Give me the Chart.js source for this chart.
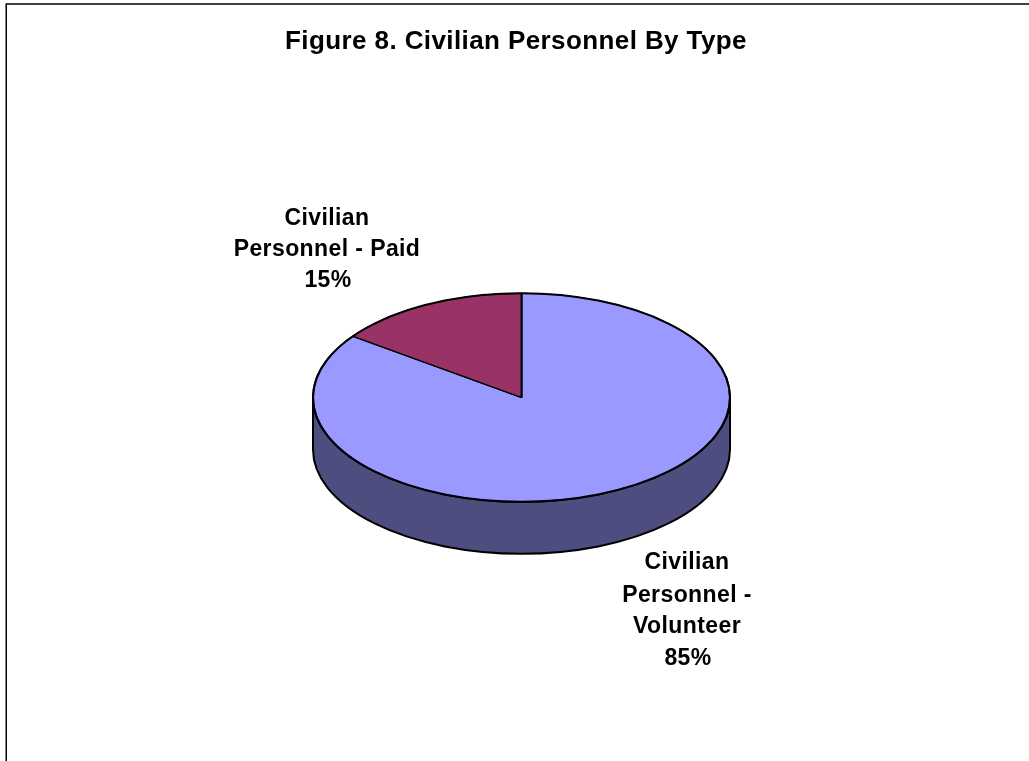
<!DOCTYPE html>
<html>
<head>
<meta charset="utf-8">
<title>Figure 8. Civilian Personnel By Type</title>
<script src="https://cdn.jsdelivr.net/npm/chart.js@4/dist/chart.umd.min.js"></script>
<style>
  html, body { margin: 0; padding: 0; background: #fff; overflow: hidden; }
  canvas { display: block; }
</style>
</head>
<body>
<canvas id="pieChart" width="1029" height="761"></canvas>
<script>
const chartTitle = "Figure 8. Civilian Personnel By Type";
const categories = ["Civilian Personnel - Volunteer", "Civilian Personnel - Paid"];
const shares = [85, 15];
const sliceColors = ["#9999FF", "#993366"];
const sideColors = ["#4D4D80", "#4D1A33"];

const FONT = '"Liberation Sans", Arial, sans-serif';
const SQUASH = 0.5;   // ellipse height / width
const DEPTH = 52;     // height of the pie's side wall

// the 3d look: squash the real arcs and put a wall under them
const pie3d = {
  id: "pie3d",
  beforeDatasetsDraw(chart) {
    const arc = chart.getDatasetMeta(0).data[0];
    const rx = arc.outerRadius;
    const ry = rx * SQUASH;
    const ctx = chart.ctx;

    ctx.save();
    ctx.beginPath();
    ctx.ellipse(arc.x, arc.y, rx, ry, 0, 0, Math.PI);
    ctx.ellipse(arc.x, arc.y + DEPTH, rx, ry, 0, Math.PI, 0, true);
    ctx.closePath();
    ctx.fillStyle = sideColors[0];
    ctx.fill();
    ctx.lineWidth = 2;
    ctx.strokeStyle = "#000";
    ctx.stroke();
    ctx.restore();

    ctx.save();
    ctx.translate(arc.x, arc.y);
    ctx.scale(1, SQUASH);
    ctx.translate(-arc.x, -arc.y);
  },
  afterDatasetsDraw(chart) {
    const ctx = chart.ctx;
    ctx.restore();

    // squashing thins the rim, so go over it once more
    const arc = chart.getDatasetMeta(0).data[0];
    ctx.save();
    ctx.beginPath();
    ctx.ellipse(arc.x, arc.y, arc.outerRadius, arc.outerRadius * SQUASH, 0, 0, Math.PI * 2);
    ctx.lineWidth = 2;
    ctx.strokeStyle = "#000";
    ctx.stroke();
    ctx.restore();
  }
};

// frame and texts, the title does not sit over the pie centre so it is drawn here
const annotations = {
  id: "annotations",
  afterDraw(chart) {
    const ctx = chart.ctx;
    ctx.save();
    ctx.strokeStyle = "#000";
    ctx.lineWidth = 1.5;
    ctx.beginPath();
    ctx.moveTo(6.25, 761);
    ctx.lineTo(6.25, 4);
    ctx.lineTo(1029, 4);
    ctx.stroke();

    ctx.fillStyle = "#000";
    ctx.textAlign = "center";
    ctx.textBaseline = "alphabetic";

    ctx.font = "bold 26px " + FONT;
    ctx.letterSpacing = "0.4px";
    ctx.fillText(chartTitle, 516, 49);

    ctx.font = "bold 23px " + FONT;
    ctx.letterSpacing = "0.4px";
    ctx.fillText("Civilian", 327, 225);
    ctx.fillText("Personnel - Paid", 327, 256);
    ctx.fillText(shares[1] + "%", 328, 287);

    ctx.fillText("Civilian", 687, 569);
    ctx.fillText("Personnel -", 687, 602);
    ctx.fillText("Volunteer", 687, 633);
    ctx.fillText(shares[0] + "%", 688, 665);
    ctx.restore();
  }
};

new Chart(document.getElementById("pieChart"), {
  type: "pie",
  data: {
    labels: categories,
    datasets: [{
      data: shares,
      backgroundColor: sliceColors,
      borderColor: "#000",
      borderWidth: 2
    }]
  },
  options: {
    responsive: false,
    animation: false,
    // puts the pie centre at 521,397 with radius 209
    layout: { padding: { left: 312, right: 298, top: 188, bottom: 154 } },
    plugins: {
      legend: { display: false },
      title: { display: false },
      tooltip: { enabled: false }
    }
  },
  plugins: [pie3d, annotations]
});
</script>
</body>
</html>
